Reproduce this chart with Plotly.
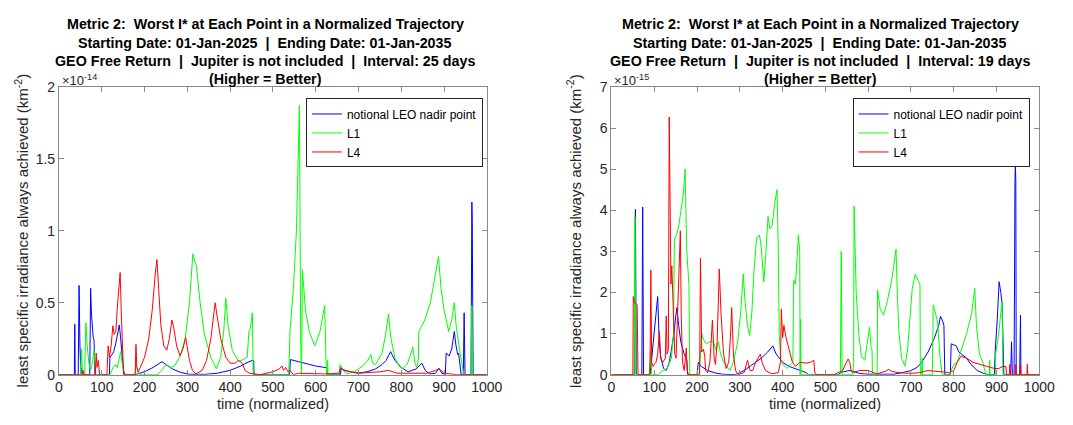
import plotly.graph_objects as go

# ---------------- data (left panel, values in units of 1e-14 km^-2) ----------------
L_blue_x = [0, 36, 37, 38, 45, 47, 49, 51, 53, 54, 72, 74, 76, 78, 80, 82, 84, 118, 119, 124, 128, 133, 138, 141, 144, 147, 150, 152, 155,
            178, 200, 220, 235, 241, 250, 265, 285, 305, 340, 370, 400, 425, 437, 447, 452, 455, 456,
            539, 541, 560, 580, 600, 626, 627, 658, 659, 680, 700, 720, 740, 755, 765, 775, 785, 800, 816, 835, 848, 856, 866, 880, 888, 895, 903,
            905, 912, 918, 924, 928, 932, 934, 937, 940, 945, 947, 949, 963, 965, 966, 967, 968, 1000]
L_blue_y = [0, 0, 0.35, 0, 0, 0.62, 0.2, 0.05, 0.04, 0, 0, 0.6, 0.42, 0.3, 0.26, 0.24, 0, 0, 0.12, 0.14, 0.16, 0.22, 0.3, 0.345, 0.26, 0.12, 0.05, 0.02, 0,
            0, 0.02, 0.05, 0.08, 0.09, 0.07, 0.04, 0.015, 0.003, 0.002, 0.01, 0.03, 0.06, 0.08, 0.095, 0.1, 0.1, 0,
            0, 0.105, 0.09, 0.075, 0.06, 0.048, 0, 0, 0.04, 0.02, 0.01, 0.02, 0.04, 0.07, 0.1, 0.16, 0.1, 0.05, 0.02, 0.04, 0.08, 0.03, 0.005, 0.01, 0.045, 0.01, 0,
            0.15, 0.13, 0.18, 0.3, 0.2, 0.14, 0.15, 0.08, 0, 0, 0.43, 0, 0, 1.2, 1.05, 0.5, 0, 0]

L_green_x = [0, 50, 53, 55, 60, 63, 66, 70, 74, 78, 82, 84, 86, 120, 126, 132, 136, 140, 144, 148, 152,
             178, 180, 184, 188, 230, 245, 252, 260, 270, 282, 295, 305, 313, 318, 321, 330, 340, 355, 368, 378, 385, 390, 395, 405, 420, 440, 444, 447, 452, 454,
             537, 540, 548, 555, 560, 562, 565, 567, 569, 572, 576, 585, 598, 610, 618, 621, 624, 626, 628, 629,
             655, 657, 665, 672, 690, 710, 722, 729, 733, 740, 755, 763, 770, 776, 785, 795, 804, 815, 823, 827, 832, 836, 840, 841, 855, 868, 880, 887, 893, 900, 911, 918, 924, 928, 935, 943, 946,
             963, 965, 967, 1000]
L_green_y = [0, 0, 0.18, 0, 0, 0.36, 0.2, 0.08, 0.03, 0.08, 0.17, 0.02, 0, 0, 0.05, 0.07, 0.05, 0.1, 0.16, 0.08, 0,
             0, 0.07, 0.03, 0, 0, 0.05, 0.07, 0.05, 0.06, 0.12, 0.25, 0.5, 0.84, 0.78, 0.76, 0.5, 0.28, 0.12, 0.04, 0.12, 0.3, 0.53, 0.35, 0.17, 0.09, 0.12, 0.3, 0.32, 0.43, 0,
             0, 0.3, 0.6, 1.0, 1.5, 1.87, 0.2, 0, 0.73, 0.6, 0.45, 0.3, 0.2, 0.3, 0.45, 0.48, 0.1, 0, 0.1, 0,
             0, 0.07, 0.03, 0.005, 0.02, 0.06, 0.1, 0.14, 0.08, 0.07, 0.15, 0.27, 0.42, 0.25, 0.12, 0.06, 0.04, 0.08, 0.15, 0.19, 0.08, 0.05, 0.1, 0.3, 0.38, 0.5, 0.7, 0.82, 0.6, 0.45, 0.3, 0.38, 0.5, 0.35, 0.2, 0.05, 0,
             0, 0.48, 0, 0]

L_red_x = [0, 54, 56, 58, 85, 87, 89, 92, 95, 112, 115, 118, 122, 126, 129, 133, 136, 143, 146, 149, 151,
           178, 180, 182, 185, 190, 200, 210, 218, 225, 229, 233, 238, 245, 252, 258, 264, 268, 275, 283, 290, 296, 300, 305, 312, 320, 335, 345, 355, 362, 365, 370, 378, 390, 400, 412, 420, 428, 435, 445,
           470, 500, 515, 521, 525, 530, 535, 540, 548, 560, 620, 655, 658, 665, 700, 750, 770, 790, 860, 880, 888, 900, 930, 1000]
L_red_y = [0, 0, 0.03, 0, 0, 0.15, 0.05, 0.1, 0, 0, 0.2, 0.12, 0.2, 0.34, 0.28, 0.3, 0.45, 0.71, 0.4, 0.1, 0,
           0, 0.21, 0.05, 0.02, 0.05, 0.12, 0.25, 0.45, 0.7, 0.8, 0.6, 0.35, 0.2, 0.17, 0.25, 0.38, 0.33, 0.2, 0.13, 0.18, 0.26, 0.2, 0.1, 0.03, 0.005, 0.03, 0.1, 0.25, 0.42, 0.5, 0.4, 0.25, 0.12, 0.08, 0.08, 0.1, 0.08, 0.03, 0.01,
           0, 0.02, 0.04, 0.06, 0.03, 0.05, 0.02, 0.03, 0, 0.01, 0.005, 0.01, 0.05, 0.03, 0.01, 0.02, 0.03, 0.01, 0.01, 0.03, 0.04, 0.01, 0, 0]

# ---------------- data (right panel, values in units of 1e-15 km^-2) ----------------
R_blue_x = [0, 54, 56, 58, 71, 73, 75, 90, 95, 100, 105, 108, 111, 114, 118, 122, 128, 135, 140, 146, 150, 153, 157, 162, 170, 176, 178,
            200, 203, 210, 225, 243, 260, 290, 310, 330, 350, 365, 377, 385, 400, 415, 430, 445, 455, 460,
            530, 535, 545, 555, 565, 580, 600, 640, 660, 680, 700, 715, 725, 740, 755, 765, 769, 774, 777, 779,
            792, 794, 800, 806, 812, 818, 822, 830, 840, 855, 870, 880, 895, 897, 902, 906, 910, 913, 915, 917,
            933, 935, 937, 941, 943, 944, 945, 946, 954, 956, 957, 1000]
R_blue_y = [0, 0, 4.02, 0, 0, 4.08, 0, 0, 0.5, 1.0, 1.6, 1.9, 1.0, 0.5, 0.3, 0.15, 0.1, 0.3, 0.6, 1.0, 1.4, 1.63, 1.2, 0.8, 0.5, 0.35, 0,
            0, 0.3, 0.2, 0.1, 0.04, 0.01, 0, 0.1, 0.25, 0.4, 0.55, 0.7, 0.5, 0.3, 0.2, 0.15, 0.1, 0.05, 0,
            0, 0.05, 0.08, 0.1, 0.08, 0.03, 0.01, 0, 0.01, 0.05, 0.1, 0.18, 0.3, 0.55, 0.9, 1.2, 1.42, 1.3, 1.2, 0,
            0, 0.75, 0.72, 0.7, 0.55, 0.5, 0.45, 0.4, 0.25, 0.1, 0.03, 0, 0, 0.6, 1.4, 2.26, 2.0, 1.7, 0.9, 0,
            0, 0.8, 0, 0, 4.65, 5.13, 4.7, 0, 0, 1.45, 0, 0]

R_green_x = [0, 53, 55, 57, 88, 92, 94, 110, 120, 130, 140, 145, 147, 152, 157, 163, 168, 172, 176, 181, 183,
             205, 208, 211, 215, 222, 230, 238, 245, 250, 255, 265, 277, 285, 295, 302, 308, 312, 318, 323, 328, 333, 339, 343, 346, 350, 353, 356, 360, 366, 370, 375, 382, 387, 390, 392, 396, 410, 424,
             426, 430, 434, 437, 440, 441, 442, 443, 535, 537, 539, 564, 566, 567, 572, 578, 584, 592, 598, 603, 607, 609, 610,
             621, 622, 628, 636, 645, 655, 665, 668, 672, 678, 686, 692, 698, 703, 707, 710, 716, 721, 722, 725, 726, 727,
             750, 752, 757, 762, 768, 773, 790, 800, 808, 818, 830, 842, 849, 853, 860, 868, 875, 883, 884, 885, 897, 898, 905, 913, 915, 1000]
R_green_y = [0, 0, 3.84, 0, 0, 0.58, 0, 0, 0.1, 0.15, 0.4, 1.0, 3.3, 3.4, 3.6, 4.0, 4.4, 5.0, 3.0, 2.2, 0,
             0, 0.7, 1.0, 0.85, 0.75, 0.8, 0.8, 0.6, 0.8, 0.5, 0.25, 0.1, 0.3, 0.8, 1.5, 2.45, 1.8, 1.2, 0.95, 1.5, 2.5, 3.3, 3.35, 3.4, 3.1, 2.6, 2.25, 2.8, 3.85, 3.55, 3.6, 4.2, 4.5, 3.0, 1.0, 0.3, 0.15, 0.3,
             2.3, 2.2, 2.8, 3.4, 3.0, 0, 1.35, 0, 0, 3.0, 0, 0, 0.3, 4.1, 2.0, 1.0, 0.45, 0.35, 0.8, 1.15, 0.65, 0.6, 0,
             0, 2.06, 1.6, 1.45, 1.8, 2.3, 3.05, 2.0, 1.0, 0.4, 0.2, 0.6, 1.5, 2.1, 2.3, 2.45, 2.3, 2.2, 0, 0, 0.4, 0,
             0, 1.7, 1.5, 1.3, 0.4, 0, 0, 0.25, 0.3, 0.6, 1.0, 1.5, 2.1, 1.2, 0.5, 0.3, 0, 0, 0.35, 0, 0, 0.5, 1.0, 1.8, 0, 0]

R_red_x = [0, 50, 51, 54, 60, 62, 90, 92, 94, 97, 100, 104, 108, 112, 115, 120, 126, 128, 130, 133, 135, 138, 139, 141, 144, 148, 151, 155, 158, 161, 163, 166, 170, 173, 175, 177, 180,
           206, 208, 211, 215, 218, 220, 225, 230, 236, 240, 243, 247, 252, 256, 262, 268, 274, 278, 281, 285, 290, 296, 310, 318, 324, 330, 337, 343, 348, 352, 360, 375, 390, 395, 397, 400, 403, 408, 415, 423, 430,
           440, 455, 465, 473, 475, 480, 520, 540, 548, 553, 557, 560, 565, 580, 600, 620, 640, 648, 655, 670, 700, 720, 740, 760, 775, 790, 800, 808, 817, 830, 845, 860, 880, 895, 905, 915, 922, 923,
           930, 931, 932, 944, 945, 946, 955, 956, 957, 971, 972, 973, 1000]
R_red_y = [0, 0, 1.9, 1.75, 1.7, 0, 0, 2.54, 0.3, 0.2, 0.25, 0.3, 0.5, 1.05, 0.4, 0.3, 0.4, 1.43, 0.5, 0.6, 6.27, 3.0, 2.2, 2.65, 1.5, 0.5, 0.4, 1.5, 2.8, 3.5, 1.5, 0.3, 0.1, 0.4, 0.65, 0.1, 0,
           0, 2.83, 0.55, 0.62, 0.45, 0.1, 0.05, 0.3, 1.33, 0.4, 0.25, 0.8, 2.57, 1.5, 0.5, 0.15, 0.3, 0.9, 1.63, 0.5, 0.1, 0, 0.05, 0.35, 0.1, 0.1, 0.3, 0.4, 0.5, 0.3, 0.1, 0.02, 0.05, 0.3, 1.6, 0.9, 1.2, 0.9, 0.6, 0.3, 0.2,
           0.3, 0.28, 0.3, 0.35, 0.05, 0, 0, 0.1, 0.3, 0.38, 0.3, 0.1, 0.05, 0.1, 0.1, 0.02, 0.08, 0.13, 0.08, 0.05, 0.03, 0.05, 0.1, 0.08, 0.05, 0.05, 0.1, 0.3, 0.45, 0.4, 0.3, 0.25, 0.2, 0.15, 0.15, 0.2, 0.2, 0,
           0, 0.25, 0, 0, 0.25, 0, 0, 0.25, 0, 0, 0.25, 0, 0]

series_names = ["notional LEO nadir point", "L1", "L4"]
series_colors = ["#0000ff", "#00ff00", "#ff0000"]
x_ticks = [0, 100, 200, 300, 400, 500, 600, 700, 800, 900, 1000]
left_y_ticks = [0, 0.5, 1, 1.5, 2]
right_y_ticks = [0, 1, 2, 3, 4, 5, 6, 7]
title_lines_common = ["Metric 2:  Worst I* at Each Point in a Normalized Trajectory",
                      "Starting Date: 01-Jan-2025  |  Ending Date: 01-Jan-2035"]
left_title_line3 = "GEO Free Return  |  Jupiter is not included  |  Interval: 25 days"
right_title_line3 = "GEO Free Return  |  Jupiter is not included  |  Interval: 19 days"
title_line4 = "(Higher = Better)"

# ---------------- figure ----------------
W, H = 1073, 425
FONT = "Liberation Sans, Arial, Helvetica, sans-serif"
AXC = "#8a8a8a"
TXT = "#262626"

def px_x(p):
    return p / W

def px_y(p):
    return 1 - p / H

L_x0, L_x1 = 56, 492
R_x0, R_x1 = 619, 1055
Y_top, Y_bot = 82, 381

fig = go.Figure()

left_data = [(L_blue_x, L_blue_y), (L_green_x, L_green_y), (L_red_x, L_red_y)]
right_data = [(R_blue_x, R_blue_y), (R_green_x, R_green_y), (R_red_x, R_red_y)]

for (xs, ys), name, col in zip(left_data, series_names, series_colors):
    fig.add_trace(go.Scatter(x=xs, y=ys, mode="lines", name=name, line=dict(color=col, width=1),
                             xaxis="x", yaxis="y", legend="legend"))
for (xs, ys), name, col in zip(right_data, series_names, series_colors):
    fig.add_trace(go.Scatter(x=xs, y=ys, mode="lines", name=name, line=dict(color=col, width=1),
                             xaxis="x2", yaxis="y2", legend="legend2"))

axis_common = dict(showline=True, linecolor=AXC, linewidth=1, mirror="ticks", ticks="inside", ticklen=5,
                   tickcolor=AXC, showgrid=False, zeroline=False,
                   tickfont=dict(family=FONT, size=14, color=TXT))

legend_common = dict(xanchor="right", yanchor="top", bgcolor="white",
                     bordercolor="#262626", borderwidth=1, font=dict(family=FONT, size=12, color="black"),
                     tracegroupgap=0, itemwidth=30)

fig.update_layout(
    width=W, height=H, margin=dict(l=0, r=0, t=0, b=0),
    paper_bgcolor="white", plot_bgcolor="white",
    font=dict(family=FONT, color=TXT),
    xaxis=dict(domain=[px_x(L_x0), px_x(L_x1)], range=[0, 1000], tickvals=x_ticks, anchor="y", **axis_common),
    yaxis=dict(domain=[px_y(Y_bot), px_y(Y_top)], range=[0, 2], tickvals=left_y_ticks, anchor="x", **axis_common),
    xaxis2=dict(domain=[px_x(R_x0), px_x(R_x1)], range=[0, 1000], tickvals=x_ticks, anchor="y2", **axis_common),
    yaxis2=dict(domain=[px_y(Y_bot), px_y(Y_top)], range=[0, 7], tickvals=right_y_ticks, anchor="x2", **axis_common),
    legend=dict(x=px_x(488), y=px_y(94), **legend_common),
    legend2=dict(x=px_x(1045), y=px_y(94), **legend_common),
)

annotations = []
line_y = [17, 36, 55, 74]
for cx, l3 in [(266, left_title_line3), (832, right_title_line3)]:
    lines = title_lines_common + [l3, title_line4]
    for ly, txt in zip(line_y, lines):
        annotations.append(dict(text="<b>" + txt + "</b>", x=px_x(cx), y=px_y(ly), xref="paper", yref="paper",
                                xanchor="center", yanchor="middle", showarrow=False,
                                font=dict(family=FONT, size=14.3, color="black")))
# exponent labels
for ex, txt in [(L_x0 + 1, "×10<sup>-14</sup>"), (R_x0 + 1, "×10<sup>-15</sup>")]:
    annotations.append(dict(text=txt, x=px_x(ex), y=px_y(75), xref="paper", yref="paper",
                            xanchor="left", yanchor="middle", showarrow=False,
                            font=dict(family=FONT, size=13, color=TXT)))
# axis titles
for cx in [(L_x0 + L_x1) / 2, (R_x0 + R_x1) / 2]:
    annotations.append(dict(text="time (normalized)", x=px_x(cx), y=px_y(412), xref="paper", yref="paper",
                            xanchor="center", yanchor="middle", showarrow=False,
                            font=dict(family=FONT, size=14.5, color=TXT)))
for lx in [18, 581]:
    annotations.append(dict(text="least specific irradiance always achieved (km<sup>-2</sup>)", x=px_x(lx),
                            y=px_y((Y_top + Y_bot) / 2), xref="paper", yref="paper", textangle=-90,
                            xanchor="center", yanchor="middle", showarrow=False,
                            font=dict(family=FONT, size=15, color=TXT)))
fig.update_layout(annotations=annotations)

fig.write_html("out.html")
